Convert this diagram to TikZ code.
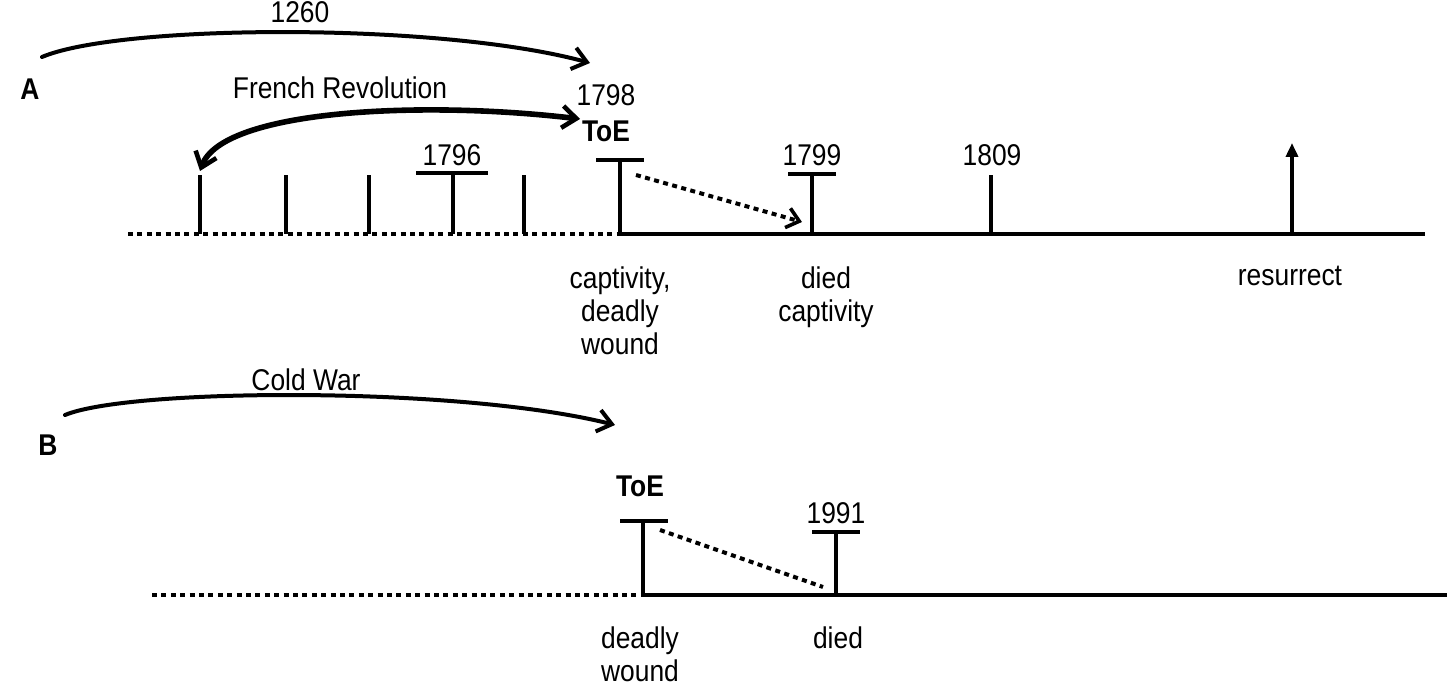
\documentclass[tikz,border=0pt]{standalone}
\usepackage{fontspec}
\setmainfont{Liberation Sans}[FakeStretch=0.88]
\usetikzlibrary{arrows.meta}
\begin{document}
\begin{tikzpicture}[x=0.5pt,y=-0.5pt,
  lbl/.style={font=\fontsize{15}{16}\selectfont, inner sep=0pt},
  blbl/.style={font=\fontsize{15}{16}\selectfont\bfseries, inner sep=0pt},
  below lbl/.style={font=\fontsize{15}{16}\selectfont, inner sep=0pt, align=center, anchor=north},
  axis/.style={line width=2.3pt},
  dotaxis/.style={line width=2.3pt, dash pattern=on 2.5pt off 2.2pt},
  tick/.style={line width=2.1pt},
  bar/.style={line width=2.1pt},
  arc/.style={line width=2pt, line cap=round},
  barb/.style={-{Straight Barb[length=7pt,width=11pt,line width=2pt]}},
]
\useasboundingbox (0,0) rectangle (1447,688);

% ---------- A ----------
\node[blbl] (A) at (30,89) {A};
\node[lbl] (t1260) at (300,12) {1260};
\node[lbl] (french) at (340,88) {French Revolution};
\node[lbl] (y1798) at (606,95) {1798};
\node[blbl] (toeA) at (606,131) {ToE};
\node[lbl] (y1796) at (452,155) {1796};
\node[lbl] (y1799) at (812,155) {1799};
\node[lbl] (y1809) at (992,155) {1809};

\coordinate (aStart) at (128,234);
\coordinate (aToE) at (620,234);
\coordinate (aEnd) at (1425,234);
\draw[dotaxis] (aStart) -- (aToE);
\draw[axis] (aToE) -- (aEnd);

% plain ticks
\foreach \x/\n in {200/p1,286/p2,369/p3,524/p4,991/p5}{
  \coordinate (\n b) at (\x,234);
  \coordinate (\n t) at (\x,175);
  \draw[tick] (\n b) -- (\n t);
}
% T ticks
\coordinate (t96b) at (453,234); \coordinate (t96t) at (453,173);
\coordinate (t96l) at (416,173); \coordinate (t96r) at (488,173);
\draw[tick] (t96b) -- (t96t); \draw[bar] (t96l) -- (t96r);

\coordinate (toeAt) at (620,160);
\coordinate (toeAl) at (596,160); \coordinate (toeAr) at (644,160);
\draw[tick] (aToE) -- (toeAt); \draw[bar] (toeAl) -- (toeAr);

\coordinate (t99b) at (812,234); \coordinate (t99t) at (812,174);
\coordinate (t99l) at (788,174); \coordinate (t99r) at (836,174);
\draw[tick] (t99b) -- (t99t); \draw[bar] (t99l) -- (t99r);

% dotted arrow
\coordinate (dA1) at (636,175);
\coordinate (dA2) at (802,222);
\draw[line width=2pt, dash pattern=on 2.5pt off 2.2pt,
  -{Straight Barb[length=6pt,width=10pt,line width=1.8pt]}] (dA1) -- (dA2);

% resurrect arrow
\coordinate (resB) at (1292,234);
\coordinate (resT) at (1292,143);
\draw[tick, -{Triangle[length=7pt,width=6pt]}] (resB) -- (resT);

% labels below
\node[below lbl] (capt) at (620,266) {captivity,\\[0.5pt]deadly\\[0.5pt]wound};
\node[below lbl] (died1) at (826,266) {died\\[0.5pt]captivity};
\node[below lbl] (resu) at (1290,266) {resurrect};

% 1260 arc
\coordinate (a1s) at (42,57);
\coordinate (a1e) at (590,63);
\draw[arc, barb] (a1s) .. controls (120,24) and (440,22) .. (a1e);

% French Revolution arc
\coordinate (frL) at (200,171);
\coordinate (frR) at (580,119);
\draw[line width=2.8pt, line cap=round,
  {Straight Barb[length=7pt,width=11pt,line width=2.3pt]}-{Straight Barb[length=7pt,width=11pt,line width=2.3pt]}]
  (frL) .. controls (222,110) and (420,100) .. (frR);

% ---------- B ----------
\node[blbl] (B) at (48,445) {B};
\node[lbl] (cold) at (306,380) {Cold War};
\node[blbl] (toeB) at (640,486) {ToE};
\node[lbl] (y1991) at (836,513) {1991};

\coordinate (bStart) at (152,595);
\coordinate (bToE) at (643,595);
\coordinate (bEnd) at (1447,595);
\draw[dotaxis] (bStart) -- (bToE);
\draw[axis] (bToE) -- (bEnd);

\coordinate (toeBt) at (643,521);
\coordinate (toeBl) at (620,521); \coordinate (toeBr) at (668,521);
\draw[tick] (bToE) -- (toeBt); \draw[bar] (toeBl) -- (toeBr);

\coordinate (t91b) at (836,595); \coordinate (t91t) at (836,532);
\coordinate (t91l) at (812,532); \coordinate (t91r) at (860,532);
\draw[tick] (t91b) -- (t91t); \draw[bar] (t91l) -- (t91r);

\coordinate (dB1) at (660,530);
\coordinate (dB2) at (823,587);
\draw[line width=2pt, dash pattern=on 2.5pt off 2.2pt] (dB1) -- (dB2);

\node[below lbl] (dw) at (640,626) {deadly\\[0.5pt]wound};
\node[below lbl] (died2) at (838,626) {died};

% Cold War arc
\coordinate (a2s) at (65,415);
\coordinate (a2e) at (615,425);
\draw[arc, barb] (a2s) .. controls (130,388) and (460,386) .. (a2e);
\end{tikzpicture}
\end{document}
